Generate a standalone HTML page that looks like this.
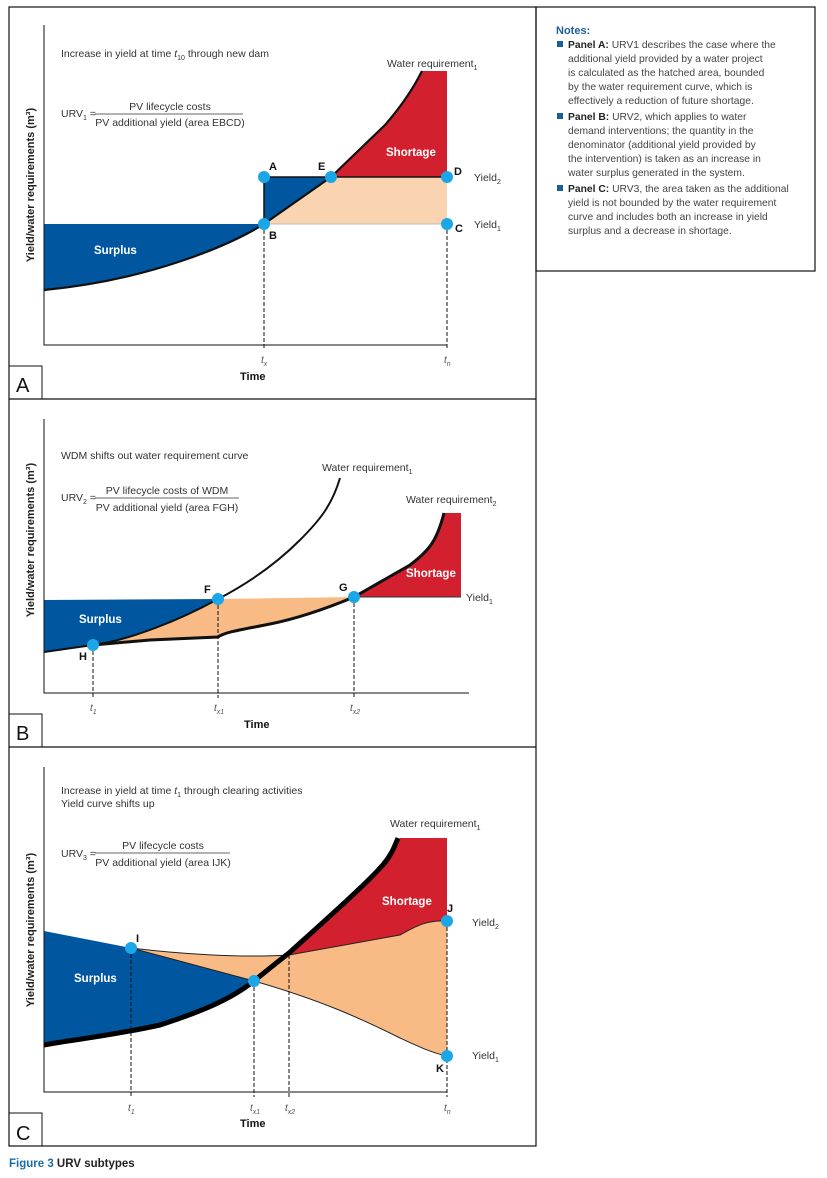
<!DOCTYPE html><html><head><meta charset="utf-8"><style>
body{margin:0;background:#fff}
svg{display:block;font-family:"Liberation Sans",sans-serif}
.t{font-size:10.5px;fill:#333}
.b{font-weight:bold;font-size:11px;fill:#111}
.w{font-weight:bold;font-size:11.5px;fill:#fff}
.i{font-style:italic;font-size:10px;fill:#555}
.n{font-size:10.3px;fill:#444}
</style></head><body>
<svg width="827" height="1178" viewBox="0 0 827 1178">
<rect x="9" y="7" width="527" height="1139" fill="none" stroke="#111" stroke-width="1.2"/>
<line x1="9" y1="399" x2="536" y2="399" stroke="#111" stroke-width="1.2"/>
<line x1="9" y1="747" x2="536" y2="747" stroke="#111" stroke-width="1.2"/>
<rect x="536" y="7" width="279" height="264" fill="none" stroke="#111" stroke-width="1.2"/>
<rect x="9" y="366" width="33" height="33" fill="none" stroke="#111"/>
<text x="16" y="392" font-size="20" fill="#111">A</text>
<rect x="9" y="714" width="33" height="33" fill="none" stroke="#111"/>
<text x="16" y="740" font-size="20" fill="#111">B</text>
<rect x="9" y="1113" width="33" height="33" fill="none" stroke="#111"/>
<text x="16" y="1140" font-size="20" fill="#111">C</text>

<text x="556" y="34" font-size="11" font-weight="bold" fill="#1a5e9a">Notes:</text>
<g class="n">
<rect x="557" y="41" width="6" height="6" fill="#1a5e9a"/>
<text x="568" y="48"><tspan font-weight="bold" fill="#222">Panel A:</tspan> URV1 describes the case where the</text>
<text x="568" y="62">additional yield provided by a water project</text>
<text x="568" y="76">is calculated as the hatched area, bounded</text>
<text x="568" y="90">by the water requirement curve, which is</text>
<text x="568" y="104">effectively a reduction of future shortage.</text>
<rect x="557" y="113" width="6" height="6" fill="#1a5e9a"/>
<text x="568" y="120"><tspan font-weight="bold" fill="#222">Panel B:</tspan> URV2, which applies to water</text>
<text x="568" y="134">demand interventions; the quantity in the</text>
<text x="568" y="148">denominator (additional yield provided by</text>
<text x="568" y="162">the intervention) is taken as an increase in</text>
<text x="568" y="176">water surplus generated in the system.</text>
<rect x="557" y="185" width="6" height="6" fill="#1a5e9a"/>
<text x="568" y="192"><tspan font-weight="bold" fill="#222">Panel C:</tspan> URV3, the area taken as the additional</text>
<text x="568" y="206">yield is not bounded by the water requirement</text>
<text x="568" y="220">curve and includes both an increase in yield</text>
<text x="568" y="234">surplus and a decrease in shortage.</text>
</g>

<text transform="translate(34,185) rotate(-90)" text-anchor="middle" font-size="11" font-weight="bold" fill="#222">Yield/water requirements (m³)</text>
<text transform="translate(34,540) rotate(-90)" text-anchor="middle" font-size="11" font-weight="bold" fill="#222">Yield/water requirements (m³)</text>
<text transform="translate(34,930) rotate(-90)" text-anchor="middle" font-size="11" font-weight="bold" fill="#222">Yield/water requirements (m³)</text>

<!-- PANEL A -->
<path d="M44,224 L264,224 C230,245 150,280 44,290 Z" fill="#0057a0"/>
<path d="M264,224 L264,177 L331,177 L300,200 Z" fill="#0057a0"/>
<path d="M264,224 L331,177 L447,177 L447,224 Z" fill="#fad4b0"/>
<path d="M331,177 L385,125 C405,102 415,85 422,71 L447,71 L447,177 Z" fill="#d3202e"/>
<line x1="264" y1="224" x2="447" y2="224" stroke="#bbb" stroke-width="1"/>
<path d="M264,177 L264,224" stroke="#111" stroke-width="1.5"/>
<path d="M264,177 L447,177" stroke="#111" stroke-width="1.5"/>
<path d="M44,290 C150,280 230,245 264,224 L331,177 L385,125 C405,102 415,85 422,71" fill="none" stroke="#111" stroke-width="2.2"/>
<path d="M44,25 V345 H447" fill="none" stroke="#111" stroke-width="1"/>
<path d="M264,224 V350 M447,224 V350" stroke="#111" stroke-dasharray="4,2" stroke-width="1"/>
<g fill="#1ba6e8"><circle cx="264" cy="177" r="6"/><circle cx="264" cy="224" r="6"/><circle cx="331" cy="177" r="6"/><circle cx="447" cy="177" r="6"/><circle cx="447" cy="224" r="6"/></g>
<text class="b" x="269" y="170">A</text><text class="b" x="269" y="239">B</text><text class="b" x="318" y="170">E</text><text class="b" x="454" y="175">D</text><text class="b" x="455" y="232">C</text>
<text class="t" x="474" y="181">Yield<tspan font-size="7" dy="3">2</tspan></text>
<text class="t" x="474" y="228">Yield<tspan font-size="7" dy="3">1</tspan></text>
<text class="w" x="386" y="156">Shortage</text>
<text class="w" x="94" y="254">Surplus</text>
<text class="t" x="61" y="57">Increase in yield at time <tspan font-style="italic">t</tspan><tspan font-size="7" dy="3">10</tspan><tspan dy="-3"> through new dam</tspan></text>
<text class="t" x="387" y="67">Water requirement<tspan font-size="7" dy="3">1</tspan></text>
<text class="t" x="61" y="117">URV<tspan font-size="7" dy="3">1</tspan><tspan dy="-3"> =</tspan></text>
<line x1="95" y1="114" x2="243" y2="114" stroke="#333" stroke-width="0.8"/>
<text class="t" x="170" y="110" text-anchor="middle">PV lifecycle costs</text>
<text class="t" x="170" y="126" text-anchor="middle">PV additional yield (area EBCD)</text>
<text class="i" x="261" y="363">t<tspan font-size="7" dy="3">x</tspan></text>
<text class="i" x="444" y="363">t<tspan font-size="7" dy="3">n</tspan></text>
<text class="b" x="240" y="380">Time</text>

<!-- PANEL B -->
<path d="M44,600 L218,599 C180,620 130,640 93,645 L44,652 Z" fill="#0057a0"/>
<path d="M93,645 C130,640 180,620 218,599 L354,597 C330,607 300,618 270,624 C240,630 225,632 218,637 L150,640 Z" fill="#f8bb85"/>
<path d="M354,597 L410,565 C430,550 437,540 444,513 L461,513 L461,597 Z" fill="#d3202e"/>
<line x1="354" y1="597" x2="461" y2="597" stroke="#333" stroke-width="1"/>
<path d="M44,652 L93,645 C130,640 180,620 218,599 C245,585 275,565 300,540 C320,520 332,505 340,478" fill="none" stroke="#111" stroke-width="2"/>
<path d="M93,645 L150,640 L218,637 C225,632 240,630 270,624 C300,618 330,607 354,597 L410,565 C430,550 437,540 444,513" fill="none" stroke="#111" stroke-width="3"/>
<path d="M44,419 V693 H469" fill="none" stroke="#111" stroke-width="1"/>
<path d="M93,645 V698 M218,599 V698 M354,597 V698" stroke="#111" stroke-dasharray="4,2" stroke-width="1"/>
<g fill="#1ba6e8"><circle cx="93" cy="645" r="6"/><circle cx="218" cy="599" r="6"/><circle cx="354" cy="597" r="6"/></g>
<text class="b" x="79" y="660">H</text><text class="b" x="204" y="593">F</text><text class="b" x="339" y="591">G</text>
<text class="w" x="406" y="577">Shortage</text>
<text class="w" x="79" y="623">Surplus</text>
<text class="t" x="466" y="601">Yield<tspan font-size="7" dy="3">1</tspan></text>
<text class="t" x="61" y="459">WDM shifts out water requirement curve</text>
<text class="t" x="322" y="471">Water requirement<tspan font-size="7" dy="3">1</tspan></text>
<text class="t" x="406" y="503">Water requirement<tspan font-size="7" dy="3">2</tspan></text>
<text class="t" x="61" y="501">URV<tspan font-size="7" dy="3">2</tspan><tspan dy="-3"> =</tspan></text>
<line x1="95" y1="498" x2="239" y2="498" stroke="#333" stroke-width="0.8"/>
<text class="t" x="167" y="494" text-anchor="middle">PV lifecycle costs of WDM</text>
<text class="t" x="167" y="511" text-anchor="middle">PV additional yield (area FGH)</text>
<text class="i" x="90" y="711">t<tspan font-size="7" dy="3">1</tspan></text>
<text class="i" x="214" y="711">t<tspan font-size="7" dy="3">x1</tspan></text>
<text class="i" x="350" y="711">t<tspan font-size="7" dy="3">x2</tspan></text>
<text class="b" x="244" y="728">Time</text>

<!-- PANEL C -->
<path d="M131,948 C180,954 240,958 289,955 L400,935 C415,927 425,920 447,921 L447,1056 C432,1053 415,1045 400,1038 C360,1018 320,1000 254,981 Z" fill="#f8bb85"/>
<path d="M289,955 C320,925 365,885 380,868 C390,858 395,848 400,838 L447,838 L447,921 C425,920 415,927 400,935 Z" fill="#d3202e"/>
<path d="M44,931 L131,948 L254,981 C230,1000 200,1012 160,1025 C110,1036 70,1040 44,1045 Z" fill="#0057a0"/>
<path d="M131,948 C180,954 240,958 289,955 L400,935 C415,927 425,920 447,921" fill="none" stroke="#222" stroke-width="1"/>
<path d="M131,948 L254,981 C320,1000 360,1018 400,1038 C415,1045 432,1053 447,1056" fill="none" stroke="#222" stroke-width="1"/>
<path d="M44,1045 C70,1040 110,1036 160,1025 C200,1012 230,1000 254,981 C270,968 280,960 289,953 C320,925 365,885 380,868 C390,858 394,848 398,838" fill="none" stroke="#000" stroke-width="5"/>
<path d="M44,767 V1092 H447" fill="none" stroke="#111" stroke-width="1"/>
<path d="M131,948 V1097 M254,981 V1097 M289,955 V1097 M447,921 V1097" stroke="#111" stroke-dasharray="4,2" stroke-width="1"/>
<g fill="#1ba6e8"><circle cx="131" cy="948" r="6"/><circle cx="254" cy="981" r="6"/><circle cx="447" cy="921" r="6"/><circle cx="447" cy="1056" r="6"/></g>
<text class="b" x="136" y="942">I</text><text class="b" x="447" y="912">J</text><text class="b" x="436" y="1072">K</text>
<text class="w" x="382" y="905">Shortage</text>
<text class="w" x="74" y="982">Surplus</text>
<text class="t" x="472" y="926">Yield<tspan font-size="7" dy="3">2</tspan></text>
<text class="t" x="472" y="1059">Yield<tspan font-size="7" dy="3">1</tspan></text>
<text class="t" x="61" y="794">Increase in yield at time <tspan font-style="italic">t</tspan><tspan font-size="7" dy="3">1</tspan><tspan dy="-3"> through clearing activities</tspan></text>
<text class="t" x="61" y="807">Yield curve shifts up</text>
<text class="t" x="390" y="827">Water requirement<tspan font-size="7" dy="3">1</tspan></text>
<text class="t" x="61" y="857">URV<tspan font-size="7" dy="3">3</tspan><tspan dy="-3"> =</tspan></text>
<line x1="95" y1="853" x2="230" y2="853" stroke="#333" stroke-width="0.8"/>
<text class="t" x="163" y="849" text-anchor="middle">PV lifecycle costs</text>
<text class="t" x="163" y="866" text-anchor="middle">PV additional yield (area IJK)</text>
<text class="i" x="128" y="1111">t<tspan font-size="7" dy="3">1</tspan></text>
<text class="i" x="250" y="1111">t<tspan font-size="7" dy="3">x1</tspan></text>
<text class="i" x="285" y="1111">t<tspan font-size="7" dy="3">x2</tspan></text>
<text class="i" x="444" y="1111">t<tspan font-size="7" dy="3">n</tspan></text>
<text class="b" x="240" y="1127">Time</text>

<text x="9" y="1167" font-size="11.5" font-weight="bold"><tspan fill="#1a6ea8">Figure 3</tspan><tspan fill="#222"> URV subtypes</tspan></text>
</svg>
</body></html>
